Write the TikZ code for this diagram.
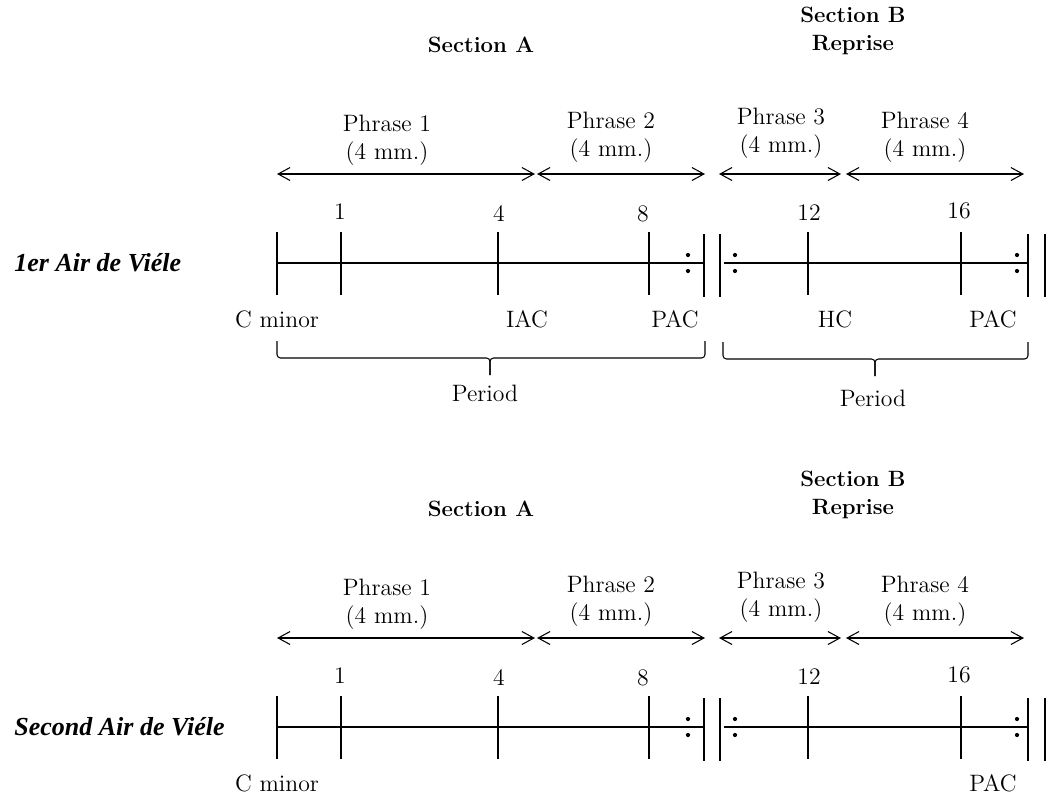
\documentclass[tikz,border=0pt]{standalone}
\usepackage{fontspec}
\newfontfamily\airfont{Liberation Serif}
\usetikzlibrary{arrows.meta}
\tikzset{
  txt/.style={font=\fontsize{13.5}{16}\selectfont},
  sect/.style={font=\fontsize{12.6}{15.5}\selectfont\bfseries,align=center},
  air/.style={font=\airfont\fontsize{14.8}{17}\selectfont\bfseries\itshape,anchor=west},
  barb/.style={{Straight Barb[length=2.4mm,width=2.6mm]}-{Straight Barb[length=2.4mm,width=2.6mm]}},
  period/.style={rounded corners=2pt}
}
\begin{document}
\begin{tikzpicture}[x=.02cm,y=-.02cm,line width=.6pt,txt]
\useasboundingbox(0,0)rectangle(1046,799);
\foreach \r/\air in {0/1er,464/Second}
{
\begin{scope}[shift={(0,\r)}]
%headings
\node[sect](secA\r) at (481,45){Section A};
\node[sect](secB\r) at (853,31){Section B\\Reprise};
%phrases
\node[align=center](ph1\r) at (387,140){Phrase 1\\(4 mm.)};
\node[align=center](ph2\r) at (611,137){Phrase 2\\(4 mm.)};
\node[align=center](ph3\r) at (781,133){Phrase 3\\(4 mm.)};
\node[align=center](ph4\r) at (925,137){Phrase 4\\(4 mm.)};
\coordinate(a0\r) at (277,174);
\coordinate(a1\r) at (535,174);
\coordinate(a2\r) at (537,174);
\coordinate(a3\r) at (705,174);
\coordinate(a4\r) at (719,174);
\coordinate(a5\r) at (841,174);
\coordinate(a6\r) at (846,174);
\coordinate(a7\r) at (1024,174);
\draw[barb](a0\r)--(a1\r);
\draw[barb](a2\r)--(a3\r);
\draw[barb](a4\r)--(a5\r);
\draw[barb](a6\r)--(a7\r);
%measures
\node(m1\r) at (340,212){1};
\node(m4\r) at (499,213){4};
\node(m8\r) at (643,214){8};
\node(m12\r) at (809,213){12};
\node(m16\r) at (959,211){16};
%staff
\coordinate(s\r) at (277,263);
\coordinate(d\r) at (704,263);
\coordinate(r\r) at (724,263);
\coordinate(e\r) at (1028,263);
\draw(s\r)--(d\r);
\draw[line width=.9pt](r\r)--(e\r);
\foreach \x in {277,341,498,649,808,961} \draw(\x,232)--(\x,295);
\foreach \x in {704,720,1028,1045} \draw(\x,234)--(\x,297);
\foreach \x in {688,735,1017} {\fill(\x,255)circle(1.2pt);\fill(\x,271)circle(1.2pt);}
\node[air](air\r) at (8,263){\air\ Air de Viéle};
%cadences
\node(cmin\r) at (277,319){C minor};
\node(pacB\r) at (993,319){PAC};
\end{scope}
}
\node(iac) at (527,319){IAC};
\node(pacA) at (675,319){PAC};
\node(hc) at (835,319){HC};
%periods
\coordinate(b0) at (277,341);
\coordinate(b1) at (705,341);
\coordinate(t0) at (490,358);
\coordinate(k0) at (490,375);
\coordinate(b2) at (723,342);
\coordinate(b3) at (1028,342);
\coordinate(t1) at (875,359);
\coordinate(k1) at (875,376);
\draw[period](b0)|-(t0)--(k0);
\draw[period](b1)|-(t0)--(k0);
\draw[period](b2)|-(t1)--(k1);
\draw[period](b3)|-(t1)--(k1);
\node(perA) at (485,393){Period};
\node(perB) at (873,398){Period};
\end{tikzpicture}
\end{document}
